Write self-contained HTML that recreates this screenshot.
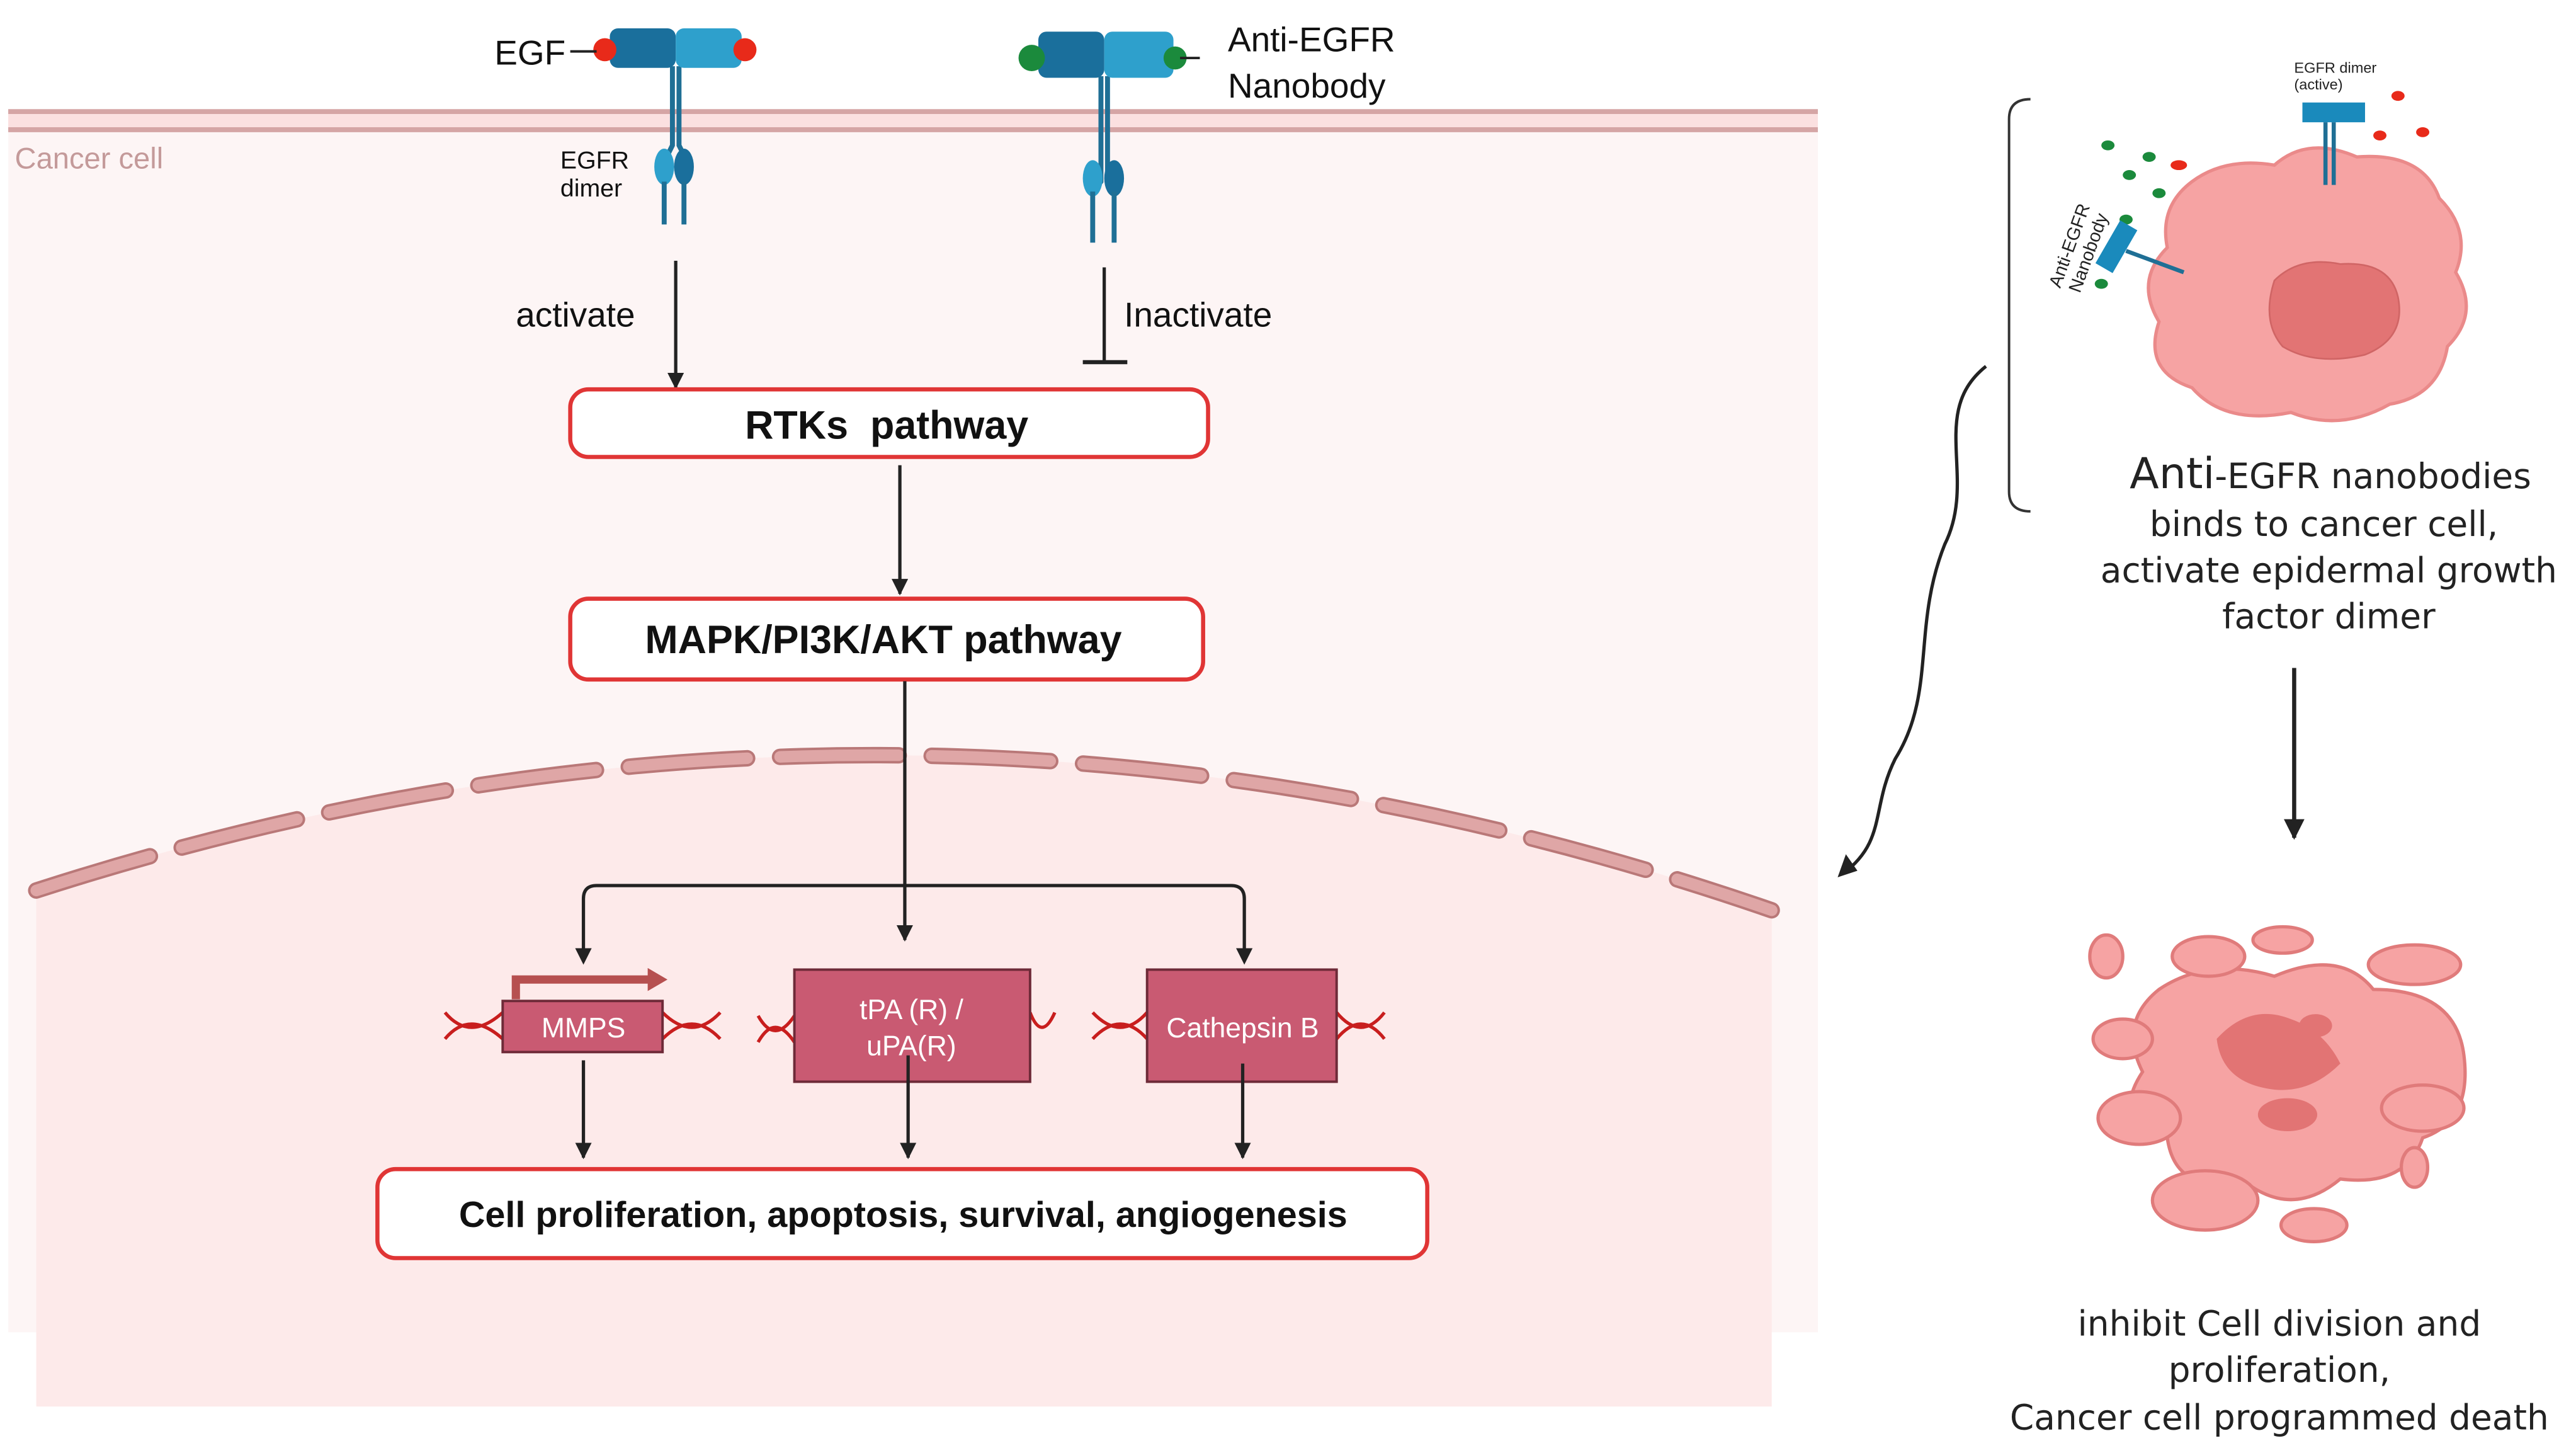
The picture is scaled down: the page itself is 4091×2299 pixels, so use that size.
<!DOCTYPE html>
<html><head><meta charset="utf-8"><style>html,body{margin:0;padding:0;background:#fff}svg{display:block}</style></head>
<body>
<svg width="4091" height="2299" viewBox="0 0 1563 878" xmlns="http://www.w3.org/2000/svg" font-family="Liberation Sans, sans-serif">
<defs>
<marker id="ah" viewBox="0 0 10 10" refX="9" refY="5" markerWidth="5" markerHeight="5" orient="auto"><path d="M0,0 L10,5 L0,10 z" fill="#222"/></marker>
</defs>
<rect x="5" y="70" width="1098" height="738" fill="#fdf5f5"/>
<rect x="5" y="67" width="1098" height="12" fill="#fbe0e0"/>
<line x1="5" y1="67.5" x2="1103" y2="67.5" stroke="#d5a5a5" stroke-width="3"/>
<line x1="5" y1="78.5" x2="1103" y2="78.5" stroke="#d5a5a5" stroke-width="3"/>
<path d="M22,540 Q548,370 1075,552 L1075,853 L22,853 Z" fill="#fdeaea"/>
<path d="M22,540 Q548,370 1075,552" fill="none" stroke="#b97878" stroke-width="10" stroke-dasharray="72,20" stroke-linecap="round"/>
<path d="M22,540 Q548,370 1075,552" fill="none" stroke="#dfa6a6" stroke-width="7" stroke-dasharray="72,20" stroke-linecap="round"/>
<text x="9" y="102" font-size="18" fill="#c49a9a">Cancer cell</text>

<g>
<path d="M408,40 L408,88 L402,100 M412,40 L412,88 L418,100" stroke="#1f6f95" stroke-width="3" fill="none"/>
<rect x="370" y="17" width="40" height="24" rx="5" fill="#1a6f9c"/>
<rect x="410" y="17" width="40" height="24" rx="5" fill="#2ea0cc"/>
<circle cx="367" cy="30" r="7" fill="#e82a1a"/><circle cx="452" cy="30" r="7" fill="#e82a1a"/>
<line x1="346" y1="31" x2="362" y2="31" stroke="#222" stroke-width="1.5"/>
<ellipse cx="403" cy="101" rx="6" ry="11" fill="#2ea0cc"/><ellipse cx="415" cy="101" rx="6" ry="11" fill="#1a6f9c"/>
<line x1="403" y1="110" x2="403" y2="136" stroke="#1f6f95" stroke-width="3"/><line x1="415" y1="110" x2="415" y2="136" stroke="#1f6f95" stroke-width="3"/>
<text x="300" y="39" font-size="21" fill="#111">EGF</text>
<text x="340" y="102" font-size="15" fill="#111">EGFR</text><text x="340" y="119" font-size="15" fill="#111">dimer</text>
</g>
<g>
<path d="M668,46 L668,110 L662,118 M672,46 L672,110 L678,118" stroke="#1f6f95" stroke-width="3" fill="none"/>
<rect x="630" y="19" width="40" height="28" rx="5" fill="#1a6f9c"/>
<rect x="670" y="19" width="42" height="28" rx="5" fill="#2ea0cc"/>
<circle cx="626" cy="35" r="8" fill="#1b8a3c"/><circle cx="713" cy="35" r="7" fill="#1b8a3c"/>
<line x1="716" y1="35" x2="728" y2="35" stroke="#222" stroke-width="1.5"/>
<ellipse cx="663" cy="108" rx="6" ry="11" fill="#2ea0cc"/><ellipse cx="676" cy="108" rx="6" ry="11" fill="#1a6f9c"/>
<line x1="663" y1="116" x2="663" y2="147" stroke="#1f6f95" stroke-width="3"/><line x1="676" y1="116" x2="676" y2="147" stroke="#1f6f95" stroke-width="3"/>
<text x="745" y="31" font-size="21" fill="#111">Anti-EGFR</text>
<text x="745" y="59" font-size="21" fill="#111">Nanobody</text>
</g>

<line x1="410" y1="158" x2="410" y2="235" stroke="#222" stroke-width="2" marker-end="url(#ah)"/>
<text x="313" y="198" font-size="21" fill="#111">activate</text>
<line x1="670" y1="162" x2="670" y2="219" stroke="#222" stroke-width="2"/>
<line x1="657" y1="219.5" x2="684" y2="219.5" stroke="#222" stroke-width="2.5"/>
<text x="682" y="198" font-size="21" fill="#111">Inactivate</text>

<rect x="346" y="236" width="387" height="41" rx="11" fill="#fff" stroke="#e03535" stroke-width="2.5"/>
<text x="538" y="266" font-size="24" font-weight="bold" text-anchor="middle" fill="#111" xml:space="preserve">RTKs  pathway</text>
<line x1="546" y1="282" x2="546" y2="360" stroke="#222" stroke-width="2" marker-end="url(#ah)"/>
<rect x="346" y="363" width="384" height="49" rx="11" fill="#fff" stroke="#e03535" stroke-width="2.5"/>
<text x="536" y="396" font-size="24" font-weight="bold" text-anchor="middle" fill="#111">MAPK/PI3K/AKT pathway</text>
<line x1="549" y1="413" x2="549" y2="570" stroke="#222" stroke-width="2" marker-end="url(#ah)"/>
<path d="M354,583 L354,545 Q354,537 362,537 L747,537 Q755,537 755,545 L755,583" fill="none" stroke="#222" stroke-width="2"/>
<path d="M349,575 L354,585 L359,575 z M750,575 L755,585 L760,575 z" fill="#222"/>

<g stroke="#c81e1e" stroke-width="2" fill="none">
<path d="M270,614 Q285,632 305,614 M270,630 Q285,612 305,630"/>
<path d="M402,614 Q420,632 437,614 M402,630 Q420,612 437,630"/>
<path d="M460,616 Q470,634 482,616 M460,632 Q470,614 482,632"/>
<path d="M625,614 Q632,632 640,614"/>
<path d="M663,614 Q680,632 696,614 M663,630 Q680,612 696,630"/>
<path d="M811,614 Q826,632 840,614 M811,630 Q826,612 840,630"/>
</g>
<path d="M313,606 L313,594 L395,594" fill="none" stroke="#b65050" stroke-width="5"/>
<path d="M393,587 L405,594 L393,601 z" fill="#b65050"/>
<rect x="305" y="607" width="97" height="31" fill="#c95a72" stroke="#6e2a38" stroke-width="1.5"/>
<text x="354" y="629" font-size="17" fill="#fff" text-anchor="middle">MMPS</text>
<rect x="482" y="588" width="143" height="68" fill="#c95a72" stroke="#6e2a38" stroke-width="1.5"/>
<text x="553" y="618" font-size="17" fill="#fff" text-anchor="middle">tPA (R) /</text>
<text x="553" y="640" font-size="17" fill="#fff" text-anchor="middle">uPA(R)</text>
<rect x="696" y="588" width="115" height="68" fill="#c95a72" stroke="#6e2a38" stroke-width="1.5"/>
<text x="754" y="629" font-size="17" fill="#fff" text-anchor="middle">Cathepsin B</text>
<line x1="354" y1="643" x2="354" y2="702" stroke="#222" stroke-width="2" marker-end="url(#ah)"/>
<line x1="551" y1="640" x2="551" y2="702" stroke="#222" stroke-width="2" marker-end="url(#ah)"/>
<line x1="754" y1="645" x2="754" y2="702" stroke="#222" stroke-width="2" marker-end="url(#ah)"/>
<rect x="229" y="709" width="637" height="54" rx="11" fill="#fff" stroke="#e03535" stroke-width="2.5"/>
<text x="548" y="744" font-size="22" font-weight="bold" text-anchor="middle" fill="#111">Cell proliferation, apoptosis, survival, angiogenesis</text>

<path d="M1232,60 Q1219,60 1219,72 L1219,298 Q1219,310 1232,310" fill="none" stroke="#333" stroke-width="1.5"/>
<path d="M1205,222 C1170,250 1200,290 1180,330 C1160,380 1175,420 1150,460 C1135,490 1145,510 1118,530" fill="none" stroke="#222" stroke-width="2"/>
<path d="M1115,532 L1120,518 L1127,528 z" fill="#222"/>
<path d="M1330,110 Q1350,95 1380,100 Q1400,82 1430,95 Q1470,92 1480,120 Q1500,140 1490,165 Q1505,190 1485,210 Q1480,240 1450,245 Q1420,262 1390,250 Q1350,258 1330,235 Q1300,225 1310,195 Q1295,170 1315,150 Q1310,125 1330,110 z" fill="#f6a3a3" stroke="#ea8a8a" stroke-width="2"/>
<path d="M1380,170 Q1395,155 1420,160 Q1450,158 1455,180 Q1460,205 1435,215 Q1405,222 1385,210 Q1372,195 1380,170 z" fill="#e27474" stroke="#d06565"/>
<g fill="#1b8a3c"><ellipse cx="1279" cy="88" rx="4" ry="3"/><ellipse cx="1304" cy="95" rx="4" ry="3"/><ellipse cx="1292" cy="106" rx="4" ry="3"/><ellipse cx="1310" cy="117" rx="4" ry="3"/><ellipse cx="1290" cy="133" rx="4" ry="3"/><ellipse cx="1275" cy="172" rx="4" ry="3"/></g>
<g fill="#e82a1a"><ellipse cx="1322" cy="100" rx="5" ry="3"/><ellipse cx="1455" cy="58" rx="4" ry="3"/><ellipse cx="1444" cy="82" rx="4" ry="3"/><ellipse cx="1470" cy="80" rx="4" ry="3"/></g>
<rect x="1397" y="62" width="38" height="12" fill="#1a8abc"/>
<path d="M1411,74 L1411,112 M1416,74 L1416,112" stroke="#1f6f95" stroke-width="2.5"/>
<text x="1392" y="44" font-size="9" fill="#222">EGFR dimer</text><text x="1392" y="54" font-size="9" fill="#222">(active)</text>
<g transform="rotate(-60 1285 150)"><rect x="1270" y="143" width="30" height="12" fill="#1a8abc"/></g>
<path d="M1290,152 L1325,165" stroke="#1f6f95" stroke-width="2.5"/>
<text x="1250" y="175" font-size="11" fill="#222" transform="rotate(-70 1250 175)">Anti-EGFR</text>
<text x="1262" y="178" font-size="11" fill="#222" transform="rotate(-70 1262 178)">Nanobody</text>
<g font-family="DejaVu Sans, sans-serif" font-size="21" fill="#222" text-anchor="middle">
<text x="1414" y="296"><tspan font-size="26">Anti</tspan>-EGFR nanobodies</text>
<text x="1410" y="325">binds to cancer cell,</text>
<text x="1413" y="353">activate epidermal growth</text>
<text x="1413" y="381">factor dimer</text>
<text x="1383" y="810">inhibit Cell division and</text>
<text x="1383" y="838">proliferation,</text>
<text x="1383" y="867">Cancer cell programmed death</text>
</g>
<line x1="1392" y1="405" x2="1392" y2="508" stroke="#222" stroke-width="2.5" marker-end="url(#ah)"/>
<g fill="#f6a3a3" stroke="#e07b7b" stroke-width="2">
<path d="M1310,600 Q1340,580 1380,592 Q1420,575 1440,600 Q1490,600 1495,640 Q1500,680 1470,690 Q1460,720 1420,715 Q1390,740 1360,715 Q1320,725 1315,690 Q1280,680 1300,650 Q1285,620 1310,600 z"/>
<ellipse cx="1340" cy="580" rx="22" ry="12"/><ellipse cx="1385" cy="570" rx="18" ry="8"/><ellipse cx="1465" cy="585" rx="28" ry="12"/>
<ellipse cx="1278" cy="580" rx="10" ry="13"/><ellipse cx="1288" cy="630" rx="18" ry="12"/><ellipse cx="1298" cy="678" rx="25" ry="16"/>
<ellipse cx="1338" cy="728" rx="32" ry="18"/><ellipse cx="1404" cy="743" rx="20" ry="10"/><ellipse cx="1465" cy="708" rx="8" ry="12"/><ellipse cx="1470" cy="672" rx="25" ry="14"/>
</g>
<path d="M1345,630 Q1365,608 1390,618 Q1410,625 1420,645 Q1400,665 1375,660 Q1348,655 1345,630 z" fill="#e27474"/>
<ellipse cx="1388" cy="676" rx="18" ry="10" fill="#e27474"/><ellipse cx="1405" cy="622" rx="10" ry="7" fill="#e27474"/>
</svg>
</body></html>
